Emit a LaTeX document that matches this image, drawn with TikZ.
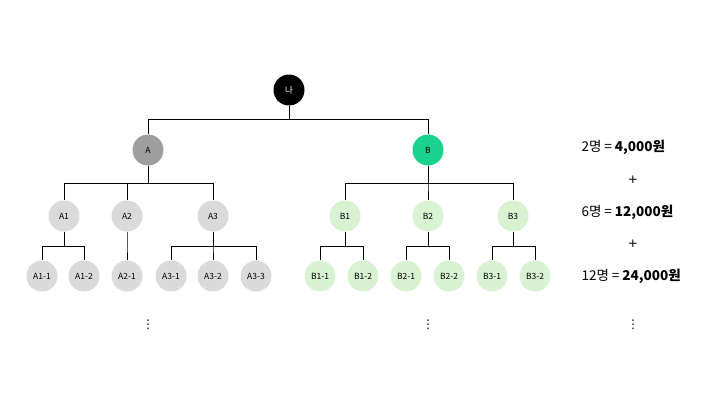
\documentclass[tikz,border=0pt]{standalone}
\usepackage{fontspec}
\setmainfont{Noto Sans CJK KR}
\newfontfamily\symfont{DejaVu Sans}
\usepackage{tikz}

\definecolor{gmid}{HTML}{9E9E9E}
\definecolor{glight}{HTML}{DADADA}
\definecolor{bmain}{HTML}{1CD38E}
\definecolor{blight}{HTML}{D9F3D2}

\begin{document}
\begin{tikzpicture}[x=1pt,y=-1pt,
	member/.style={shape=circle,minimum size=31pt,inner sep=0pt,font=\fontsize{8.5}{9}\selectfont},
	link/.style={draw=black,line width=0.9pt},
	sumtext/.style={anchor=west,font=\fontsize{13.5}{15}\selectfont},
	more/.style={font=\symfont\fontsize{12}{13}\selectfont}]
	\useasboundingbox (0,0) rectangle (720,405);

	\node[member,fill=black,text=white] (na) at (289, 90)  {나};
	\node[member,fill=gmid]   (a)   at (148, 150) {A};
	\node[member,fill=bmain]  (b)   at (428, 150) {B};

	\node[member,fill=glight] (a1)  at (64, 216)  {A1};
	\node[member,fill=glight] (a2)  at (127, 216) {A2};
	\node[member,fill=glight] (a3)  at (213, 216) {A3};
	\node[member,fill=blight] (b1)  at (345, 216) {B1};
	\node[member,fill=blight] (b2)  at (428, 216) {B2};
	\node[member,fill=blight] (b3)  at (513, 216) {B3};

	\node[member,fill=glight] (a11) at (42, 276)  {A1-1};
	\node[member,fill=glight] (a12) at (84, 276)  {A1-2};
	\node[member,fill=glight] (a21) at (127, 276) {A2-1};
	\node[member,fill=glight] (a31) at (171, 276) {A3-1};
	\node[member,fill=glight] (a32) at (213, 276) {A3-2};
	\node[member,fill=glight] (a33) at (256, 276) {A3-3};
	\node[member,fill=blight] (b11) at (320, 276) {B1-1};
	\node[member,fill=blight] (b12) at (363, 276) {B1-2};
	\node[member,fill=blight] (b21) at (406, 276) {B2-1};
	\node[member,fill=blight] (b22) at (449, 276) {B2-2};
	\node[member,fill=blight] (b31) at (492, 276) {B3-1};
	\node[member,fill=blight] (b32) at (535, 276) {B3-2};

	% buses
	\foreach \c in {a,b}
		\draw[link] (na.south) |- (\c.north |- 0,119) -- (\c.north);
	\foreach \c in {a1,a2,a3}
		\draw[link] (a.south) |- (\c.north |- 0,183) -- (\c.north);
	\foreach \c in {b1,b2,b3}
		\draw[link] (b.south) |- (\c.north |- 0,183) -- (\c.north);
	\foreach \p/\c in {a1/a11,a1/a12,a2/a21,a3/a31,a3/a32,a3/a33,b1/b11,b1/b12,b2/b21,b2/b22,b3/b31,b3/b32}
		\draw[link] (\p.south) |- (\c.north |- 0,246) -- (\c.north);

	\node[more] (dota) at (148, 325) {⋮};
	\node[more] (dotb) at (428, 325) {⋮};

	\node[sumtext] (s1) at (578, 147) {2명 = \textbf{4,000원}};
	\node[more]    (p1) at (633, 180) {+};
	\node[sumtext] (s2) at (578, 212) {6명 = \textbf{12,000원}};
	\node[more]    (p2) at (633, 244) {+};
	\node[sumtext] (s3) at (578, 276) {12명 = \textbf{24,000원}};
	\node[more]    (dots) at (633, 325) {⋮};
\end{tikzpicture}
\end{document}
